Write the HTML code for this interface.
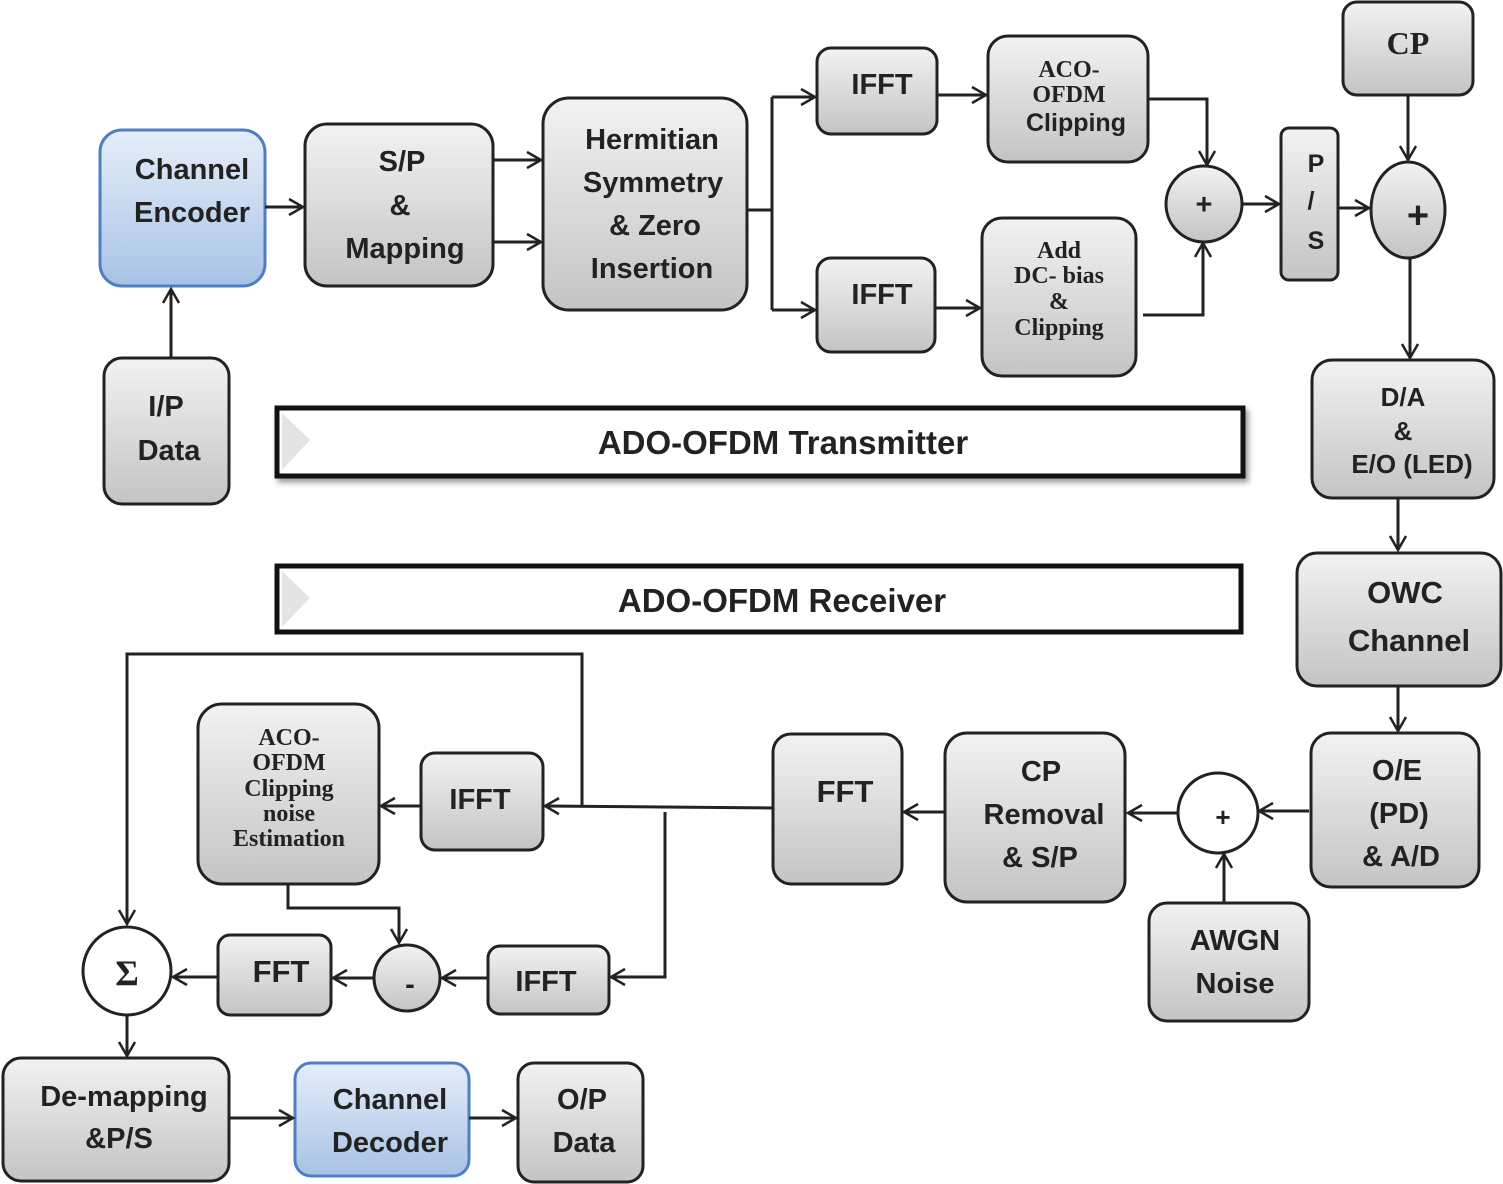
<!DOCTYPE html>
<html><head><meta charset="utf-8"><style>
html,body{margin:0;padding:0;background:#fff}
svg{display:block}
text{font-family:"Liberation Sans",sans-serif;font-weight:bold;fill:#222;text-anchor:middle}
</style></head><body>
<svg width="1503" height="1184" viewBox="0 0 1503 1184" xmlns="http://www.w3.org/2000/svg">
<defs>
<linearGradient id="g" x1="0" y1="0" x2="0" y2="1"><stop offset="0" stop-color="#f2f2f2"/><stop offset="1" stop-color="#c4c4c4"/></linearGradient>
<linearGradient id="b" x1="0" y1="0" x2="0" y2="1"><stop offset="0" stop-color="#e6eef9"/><stop offset="1" stop-color="#a7c2e6"/></linearGradient>
<marker id="a" markerWidth="20" markerHeight="20" refX="17" refY="10" orient="auto" markerUnits="userSpaceOnUse"><polyline points="3,2 17,10 3,18" fill="none" stroke="#222" stroke-width="2.5"/></marker>
</defs>
<g stroke="#222" stroke-width="3">
<rect x="100" y="130" width="165" height="156" rx="22" fill="url(#b)" stroke="#4f7fc0"/>
<rect x="305" y="124" width="188" height="162" rx="22" fill="url(#g)"/>
<rect x="543" y="98" width="204" height="212" rx="26" fill="url(#g)"/>
<rect x="817" y="48" width="120" height="86" rx="14" fill="url(#g)"/>
<rect x="988" y="36" width="160" height="126" rx="20" fill="url(#g)"/>
<rect x="817" y="258" width="118" height="94" rx="14" fill="url(#g)"/>
<rect x="982" y="218" width="154" height="158" rx="20" fill="url(#g)"/>
<circle cx="1204" cy="204" r="38" fill="url(#g)"/>
<rect x="1281" y="128" width="57" height="152" rx="8" fill="url(#g)"/>
<ellipse cx="1408" cy="210" rx="37" ry="48" fill="url(#g)"/>
<rect x="1343" y="2" width="130" height="93" rx="14" fill="url(#g)"/>
<rect x="1312" y="360" width="182" height="138" rx="20" fill="url(#g)"/>
<rect x="1297" y="553" width="204" height="133" rx="20" fill="url(#g)"/>
<rect x="1311" y="733" width="168" height="154" rx="20" fill="url(#g)"/>
<circle cx="1218" cy="813" r="40" fill="#fff"/>
<rect x="1149" y="903" width="160" height="118" rx="18" fill="url(#g)"/>
<rect x="945" y="733" width="180" height="169" rx="22" fill="url(#g)"/>
<rect x="773" y="734" width="129" height="150" rx="18" fill="url(#g)"/>
<rect x="421" y="753" width="122" height="97" rx="14" fill="url(#g)"/>
<rect x="198" y="704" width="181" height="180" rx="24" fill="url(#g)"/>
<circle cx="407" cy="978" r="33" fill="url(#g)"/>
<rect x="488" y="946" width="121" height="68" rx="12" fill="url(#g)"/>
<rect x="218" y="935" width="113" height="80" rx="12" fill="url(#g)"/>
<circle cx="127" cy="971" r="44" fill="#fff"/>
<rect x="3" y="1058" width="226" height="123" rx="18" fill="url(#g)"/>
<rect x="295" y="1063" width="174" height="113" rx="16" fill="url(#b)" stroke="#4f7fc0"/>
<rect x="518" y="1063" width="125" height="119" rx="16" fill="url(#g)"/>
<rect x="104" y="358" width="125" height="146" rx="18" fill="url(#g)"/>
</g>
<g stroke="#111" stroke-width="5" fill="#fff">
<rect x="277" y="408" width="966" height="68" style="filter:drop-shadow(3px 4px 3px #999)"/>
<rect x="277" y="566" width="964" height="66"/>
</g>
<polygon points="282,413 310,440 282,470" fill="#e4e4e4"/>
<polygon points="282,571 310,598 282,627" fill="#e4e4e4"/>
<g stroke="#222" stroke-width="3" fill="none" marker-end="url(#a)">
<line x1="171" y1="358" x2="171" y2="289"/>
<line x1="265" y1="207" x2="303" y2="207"/>
<line x1="493" y1="160" x2="541" y2="160"/>
<line x1="493" y1="242" x2="541" y2="242"/>
<polyline points="772,97 815,97"/>
<polyline points="772,310 815,310"/>
<line x1="937" y1="95" x2="986" y2="95"/>
<line x1="935" y1="308" x2="980" y2="308"/>
<polyline points="1148,99 1207,99 1207,165"/>
<polyline points="1143,315 1203,315 1203,243"/>
<line x1="1242" y1="204" x2="1279" y2="204"/>
<line x1="1338" y1="208" x2="1369" y2="208"/>
<line x1="1408" y1="95" x2="1408" y2="160"/>
<line x1="1410" y1="258" x2="1410" y2="358"/>
<line x1="1398" y1="498" x2="1398" y2="550"/>
<line x1="1398" y1="686" x2="1398" y2="731"/>
<line x1="1309" y1="811" x2="1259" y2="811"/>
<line x1="1224" y1="903" x2="1224" y2="854"/>
<line x1="1178" y1="813" x2="1128" y2="813"/>
<line x1="945" y1="812" x2="904" y2="812"/>
<polyline points="773,808 545,806"/>
<polyline points="582,806 582,654 127,654 127,924"/>
<polyline points="665,812 665,977 611,977"/>
<line x1="421" y1="806" x2="381" y2="806"/>
<polyline points="288,884 288,908 399,908 399,943"/>
<line x1="488" y1="978" x2="442" y2="978"/>
<line x1="374" y1="978" x2="333" y2="978"/>
<line x1="218" y1="977" x2="173" y2="977"/>
<line x1="127" y1="1015" x2="127" y2="1056"/>
<line x1="229" y1="1118" x2="293" y2="1118"/>
<line x1="469" y1="1118" x2="516" y2="1118"/>
</g>
<polyline points="747,210 772,210 772,97 772,310" fill="none" stroke="#222" stroke-width="3"/>
<g font-size="29">
<text x="192" y="179">Channel</text><text x="192" y="222">Encoder</text>
<text x="402" y="171">S/P</text><text x="400" y="215">&amp;</text><text x="405" y="258">Mapping</text>
<text x="652" y="149">Hermitian</text><text x="653" y="192">Symmetry</text><text x="655" y="235">&amp; Zero</text><text x="652" y="278">Insertion</text>
<text x="882" y="94">IFFT</text><text x="882" y="304">IFFT</text>
<text x="166" y="416">I/P</text><text x="169" y="460">Data</text>
<text x="1403" y="406" font-size="26">D/A</text><text x="1403" y="440" font-size="26">&amp;</text><text x="1412" y="473" font-size="26">E/O (LED)</text>
<text x="1405" y="603" font-size="31">OWC</text><text x="1409" y="651" font-size="31">Channel</text>
<text x="1397" y="780">O/E</text><text x="1399" y="823">(PD)</text><text x="1401" y="866">&amp; A/D</text>
<text x="1235" y="950">AWGN</text><text x="1235" y="993">Noise</text>
<text x="1041" y="781">CP</text><text x="1044" y="824">Removal</text><text x="1040" y="867">&amp; S/P</text>
<text x="845" y="802" font-size="31">FFT</text>
<text x="480" y="809">IFFT</text>
<text x="546" y="991">IFFT</text>
<text x="281" y="982" font-size="31">FFT</text>
<text x="124" y="1106">De-mapping</text><text x="119" y="1148">&amp;P/S</text>
<text x="390" y="1109">Channel</text><text x="390" y="1152">Decoder</text>
<text x="582" y="1109">O/P</text><text x="584" y="1152">Data</text>
<text x="1316" y="172" font-size="25">P</text><text x="1311" y="209" font-size="25">/</text><text x="1316" y="249" font-size="25">S</text>
<text x="1204" y="214">+</text>
<text x="1418" y="228" font-size="38">+</text>
<text x="1223" y="826" font-size="26" font-weight="normal">+</text>
<text x="410" y="994">-</text>
<text x="127" y="985" font-size="36" font-weight="normal" style="font-family:'Liberation Serif',serif">Σ</text>
<text x="783" y="454" font-size="33">ADO-OFDM Transmitter</text>
<text x="782" y="612" font-size="33">ADO-OFDM Receiver</text>
<text x="1076" y="131" font-size="25">Clipping</text>
</g>
<g font-size="24">
<text x="1069" y="77" style="font-family:'Liberation Serif',serif">ACO-</text>
<text x="1069" y="102" style="font-family:'Liberation Serif',serif">OFDM</text>
<text x="1059" y="258" style="font-family:'Liberation Serif',serif">Add</text>
<text x="1059" y="283" style="font-family:'Liberation Serif',serif">DC- bias</text>
<text x="1059" y="309" style="font-family:'Liberation Serif',serif">&amp;</text>
<text x="1059" y="335" style="font-family:'Liberation Serif',serif">Clipping</text>
<text x="1408" y="54" font-size="32" style="font-family:'Liberation Serif',serif">CP</text>
<text x="289" y="745" style="font-family:'Liberation Serif',serif">ACO-</text>
<text x="289" y="770" style="font-family:'Liberation Serif',serif">OFDM</text>
<text x="289" y="796" style="font-family:'Liberation Serif',serif">Clipping</text>
<text x="289" y="821" style="font-family:'Liberation Serif',serif">noise</text>
<text x="289" y="846" style="font-family:'Liberation Serif',serif">Estimation</text>
</g>
</svg>
</body></html>
